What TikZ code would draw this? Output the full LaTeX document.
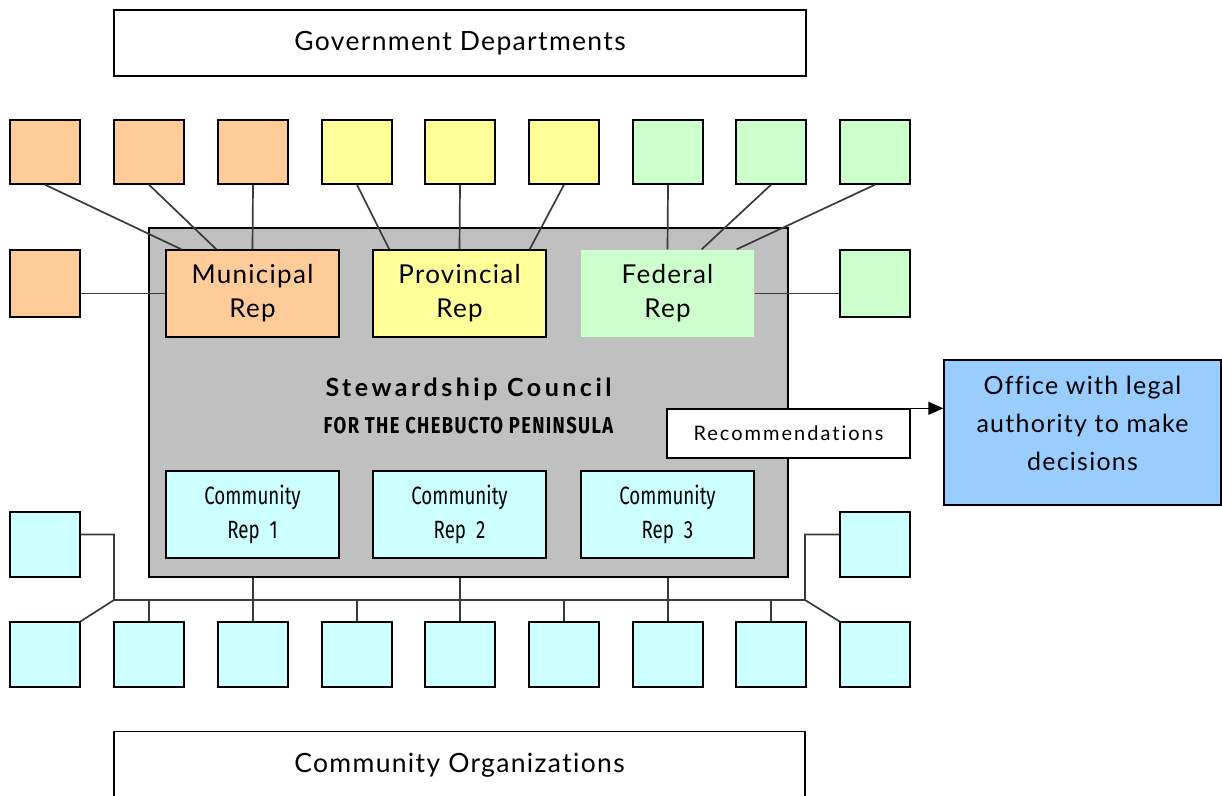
\documentclass[tikz,border=0pt]{standalone}
\usepackage{fontspec}
\setmainfont{Lato}[LetterSpace=5,Ligatures=NoCommon]
\newfontfamily\recfont{Lato}[LetterSpace=10,Ligatures=NoCommon]
\newfontfamily\titlefont{Lato}[LetterSpace=14,Ligatures=NoCommon]
\newfontfamily\condfont{Fira Sans}[FakeStretch=0.75]
\newfontfamily\subfont{Fira Sans}[FakeStretch=0.8,LetterSpace=6]
\usetikzlibrary{arrows.meta,calc}
\definecolor{orng}{HTML}{FFCC99}
\definecolor{yell}{HTML}{FFFF99}
\definecolor{grn}{HTML}{CCFFCC}
\definecolor{cyn}{HTML}{CCFFFF}
\definecolor{cgray}{HTML}{C0C0C0}
\definecolor{offblue}{HTML}{99CCFF}
\definecolor{conn}{HTML}{3A3A3A}
\tikzset{
  sq/.style={draw=black, line width=1.4pt, minimum width=70pt, minimum height=65pt, inner sep=0pt},
  rep/.style={draw=black, line width=1.4pt, minimum width=173pt, minimum height=87pt, inner sep=0pt, align=center, font=\fontsize{26}{34}\selectfont},
  crep/.style={draw=black, line width=1.4pt, minimum width=173pt, minimum height=87pt, inner sep=0pt, fill=cyn, align=center, font=\condfont\fontsize{25}{34}\selectfont},
  label/.style={draw=black, line width=1.4pt, fill=white, inner sep=0pt, align=center},
  cn/.style={draw=conn, line width=1.7pt},
}
\begin{document}
\begin{tikzpicture}[x=1pt,y=-1pt]
\useasboundingbox (0,0) rectangle (1222,795);
\clip (0,0) rectangle (1222,795);
% header / footer
\node[label, minimum width=692pt, minimum height=66pt, font=\fontsize{26.5}{30}\selectfont] (gov) at (460,43) {Government Departments};
\node[label, minimum width=691pt, minimum height=80pt, anchor=north] (org) at (459.5,731) {};
\node (orgt) at (459.5,765) {\fontsize{26.5}{30}\selectfont Community Organizations};
% council
\node[draw=black, line width=1.4pt, fill=cgray, minimum width=639pt, minimum height=349pt, inner sep=0pt] (council) at (468.5,402.5) {};
\node (title) at (468.5,389) {\titlefont\fontsize{25}{28}\selectfont\bfseries Stewardship Council};
\node (sub) at (468.5,426) {\subfont\fontsize{23}{26}\selectfont\bfseries FOR THE CHEBUCTO PENINSULA};
\node[rep, fill=orng] (mun) at (252.5,293.5) {Municipal\\Rep};
\node[rep, fill=yell] (prov) at (459.5,293.5) {Provincial\\Rep};
\node[rep, fill=grn, draw=none] (fed) at (667.5,293.5) {Federal\\Rep};
\node[crep] (c1) at (252.5,514.5) {Community\\Rep\ \ 1};
\node[crep] (c2) at (459.5,514.5) {Community\\Rep\ \ 2};
\node[crep] (c3) at (667.5,514.5) {Community\\Rep\ \ 3};
% top squares
\node[sq, fill=orng, minimum height=64pt] (t1) at (45,152) {};
\node[sq, fill=orng, minimum height=64pt] (t2) at (149,152) {};
\node[sq, fill=orng, minimum height=64pt] (t3) at (253,152) {};
\node[sq, fill=yell, minimum height=64pt] (t4) at (357,152) {};
\node[sq, fill=yell, minimum height=64pt] (t5) at (460,152) {};
\node[sq, fill=yell, minimum height=64pt] (t6) at (564,152) {};
\node[sq, fill=grn, minimum height=64pt] (t7) at (668,152) {};
\node[sq, fill=grn, minimum height=64pt] (t8) at (771,152) {};
\node[sq, fill=grn, minimum height=64pt] (t9) at (875,152) {};
\node[sq, fill=orng, minimum height=67pt] (ml) at (45,283.5) {};
\node[sq, fill=grn, minimum height=67pt] (mr) at (875,283.5) {};
% bottom squares
\node[sq, fill=cyn] (bm1) at (45,544.5) {};
\node[sq, fill=cyn] (bm2) at (875,544.5) {};
\node[sq, fill=cyn] (b1) at (45,654.5) {};
\node[sq, fill=cyn] (b2) at (149,654.5) {};
\node[sq, fill=cyn] (b3) at (253,654.5) {};
\node[sq, fill=cyn] (b4) at (357,654.5) {};
\node[sq, fill=cyn] (b5) at (460,654.5) {};
\node[sq, fill=cyn] (b6) at (564,654.5) {};
\node[sq, fill=cyn] (b7) at (668,654.5) {};
\node[sq, fill=cyn] (b8) at (771,654.5) {};
\node[sq, fill=cyn] (b9) at (875,654.5) {};
% top connectors
\draw[cn] (t1.south) -- ($(mun.north west)+(16,0)$);
\draw[cn] (t2.south) -- ($(mun.north west)+(51,0)$);
\draw[cn] (t3.south) -- (mun.north);
\draw[cn] (t4.south) -- ($(prov.north west)+(17,0)$);
\draw[cn] (t5.south) -- (prov.north);
\draw[cn] (t6.south) -- ($(prov.north east)+(-17,0)$);
\draw[cn] (t7.south) -- (fed.north);
\draw[cn] (t8.south) -- ($(fed.north east)+(-53,0)$);
\draw[cn] (t9.south) -- ($(fed.north east)+(-18,0)$);
\draw[cn] (mun.west -| ml.east) -- (mun.west);
\draw[cn] (fed.east) -- (fed.east -| mr.west);
% bottom bus
\coordinate (busL) at (114,600);
\coordinate (busR) at (805,600);
\draw[cn] (busL) -- (busR);
\draw[cn] ($(bm1.east)+(0,-10)$) -| (busL) -- (b1.north east);
\draw[cn] ($(bm2.west)+(0,-10)$) -| (busR) -- (b9.north west);
\draw[cn] (b2.north |- busL) -- (b2.north);
\draw[cn] (council.south -| b3.north) -- (b3.north);
\draw[cn] (b4.north |- busL) -- (b4.north);
\draw[cn] (council.south -| b5.north) -- (b5.north);
\draw[cn] (b6.north |- busL) -- (b6.north);
\draw[cn] (council.south -| b7.north) -- (b7.north);
\draw[cn] (b8.north |- busL) -- (b8.north);
% office and recommendations
\node[label, fill=offblue, minimum width=277pt, minimum height=145pt] (office) at (1082.5,432.5) {};
\node[align=center, font=\fontsize{25}{38}\selectfont] (officet) at (1082.5,423) {Office with legal\\authority to make\\decisions};
\node[label, minimum width=243pt, minimum height=49pt, font=\recfont\fontsize{20}{24}\selectfont] (rec) at (788.5,433.5) {Recommendations};
\draw[line width=1.4pt, -{Triangle[length=15pt,width=13pt]}] (rec.north east) -- (office.west |- rec.north east);
\end{tikzpicture}
\end{document}
